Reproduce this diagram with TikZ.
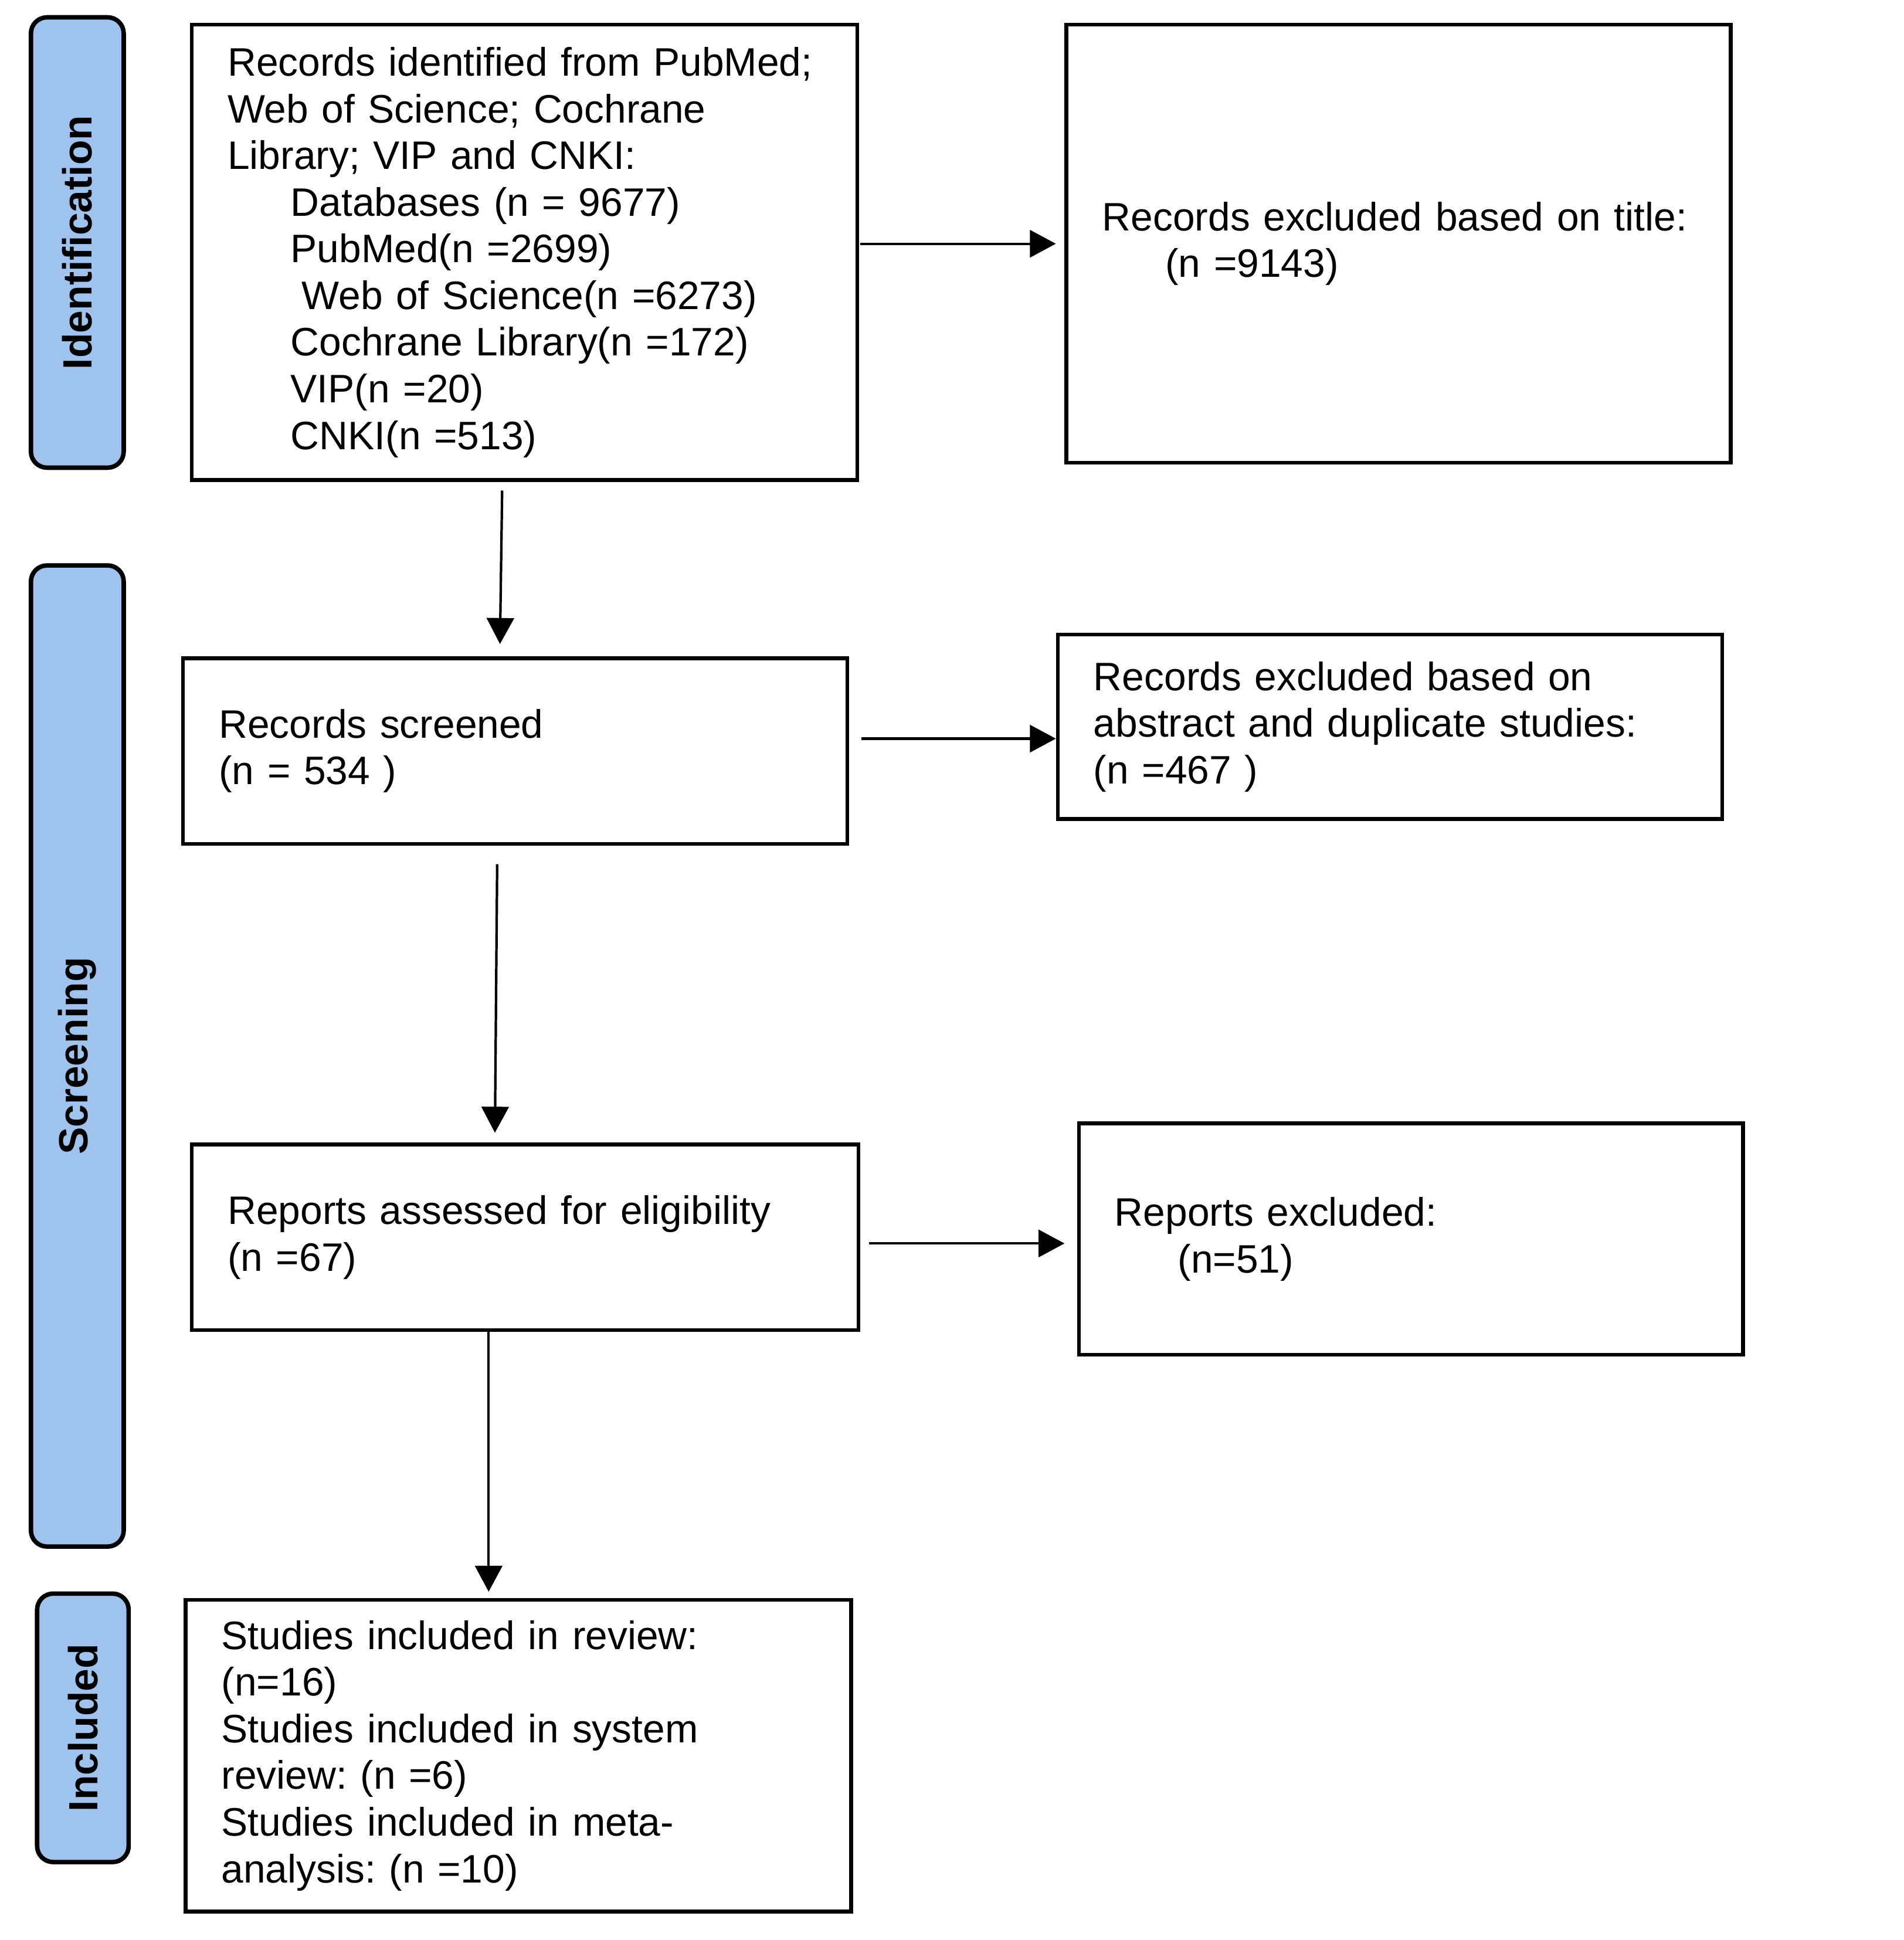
\documentclass[tikz,border=0pt]{standalone}
\usepackage{fontspec}
\setmainfont{Liberation Sans}
\usetikzlibrary{arrows.meta}
\definecolor{tabblue}{RGB}{159,195,236}
\frenchspacing
\begin{document}
\begin{tikzpicture}[x=1pt,y=-1pt,
  box/.style={draw, line width=3pt, rectangle, inner xsep=29pt, inner ysep=0pt, align=left,
    font=\fontsize{32.1}{37.7}\selectfont},
  tab/.style={draw, line width=3.6pt, fill=tabblue, rounded corners=13pt, inner sep=0pt},
  tablabel/.style={rotate=90, font=\fontsize{33}{38}\selectfont\bfseries},
  arr/.style={line width=2pt, -{Triangle[length=21pt,width=22pt]}}]
\useasboundingbox (0,0) rectangle (1539,1568);
% side tabs
\node[tab, minimum width=75pt, minimum height=364pt] (T1) at (62.5,196) {};
\node[tablabel] (L1) at (T1.center) {Identification};
\node[tab, minimum width=75pt, minimum height=793pt] (T2) at (62.5,853.5) {};
\node[tablabel] (L2) at (T2.center) {Screening};
\node[tab, minimum width=74pt, minimum height=217pt] (T3) at (67,1396.5) {};
\node[tablabel] (L3) at (T3.center) {Included};
% boxes
\node[box, minimum width=538pt, minimum height=368pt, text width=480pt] (B1) at (424,204)
 {Records identified from PubMed;\\Web of Science; Cochrane\\Library; VIP and CNKI:\\
  \hspace*{51pt}Databases (n = 9677)\\
  \hspace*{51pt}PubMed(n =2699)\\
  \hspace*{60pt}Web of Science(n =6273)\\
  \hspace*{51pt}Cochrane Library(n =172)\\
  \hspace*{51pt}VIP(n =20)\\
  \hspace*{51pt}CNKI(n =513)};
\node[box, minimum width=537pt, minimum height=354pt, text width=479pt] (E1) at (1130.5,197)
 {Records excluded based on title:\\\hspace*{51pt}(n =9143)};
\node[box, minimum width=537pt, minimum height=150pt, text width=479pt] (B2) at (416.5,607)
 {Records screened\\(n = 534 )};
\node[box, minimum width=537pt, minimum height=149pt, text width=479pt] (E2) at (1123.5,587.5)
 {Records excluded based on\\abstract and duplicate studies:\\(n =467 )};
\node[box, minimum width=539pt, minimum height=150pt, text width=481pt] (B3) at (424.5,1000)
 {Reports assessed for eligibility\\(n =67)};
\node[box, minimum width=537pt, minimum height=187pt, text width=479pt] (E3) at (1140.5,1001.5)
 {Reports excluded:\\\hspace*{51pt}(n=51)};
\node[box, minimum width=538pt, minimum height=252pt, text width=480pt] (B4) at (419,1419)
 {Studies included in review:\\(n=16)\\Studies included in system\\review: (n =6)\\Studies included in meta-\\analysis: (n =10)};
% horizontal arrows
\draw[arr, shorten <=1pt, shorten >=7pt] (B1.east |- E1.west) -- (E1.west);
\coordinate (y2) at (0,597);
\draw[arr, shorten <=10pt] (B2.east |- y2) -- (E2.west |- y2);
\coordinate (y3) at (0,1005);
\draw[arr, shorten <=7pt, shorten >=10pt] (B3.east |- y3) -- (E3.west |- y3);
% vertical arrows
\draw[arr, shorten <=7pt, shorten >=10pt] ([xshift=-18pt]B1.south) -- ([xshift=-12.5pt]B2.north);
\draw[arr, shorten <=15pt, shorten >=8pt] ([xshift=-14.5pt]B2.south) -- ([xshift=-24.5pt]B3.north);
\draw[arr, shorten >=5pt] ([xshift=-29.5pt]B3.south) -- ([xshift=-24pt]B4.north);
\end{tikzpicture}
\end{document}
